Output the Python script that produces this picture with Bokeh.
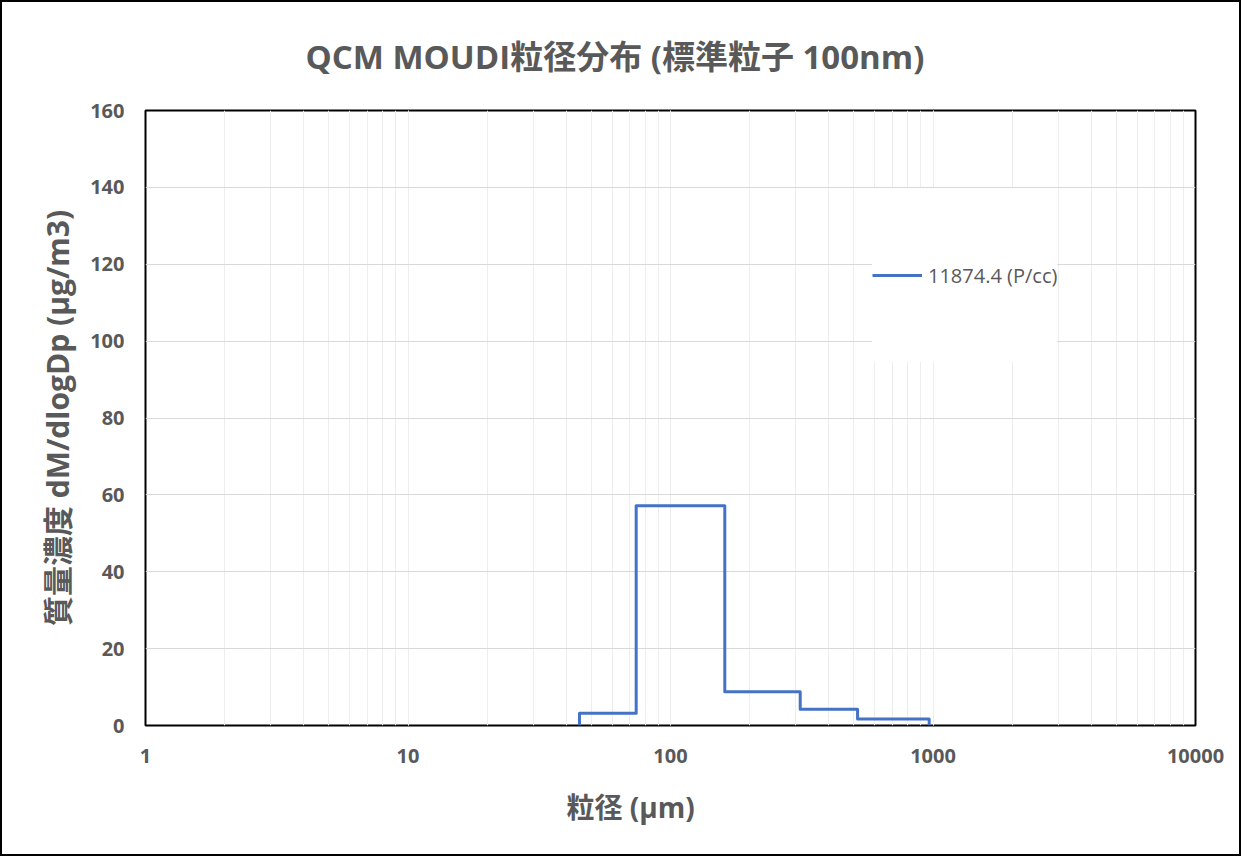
from bokeh.plotting import figure
from bokeh.models import LogTicker, SingleIntervalTicker, Range1d, Title
from bokeh.embed import file_html
from bokeh.resources import INLINE

# ---- data ----
bin_edges = [45, 74, 161, 312, 516, 967]       # particle size bin edges
bin_values = [3.2, 57.2, 8.8, 4.2, 1.7]        # dM/dlogDp per bin
series_label = "11874.4 (P/cc)"
x_tick_values = [1, 10, 100, 1000, 10000]
x_tick_labels = ["1", "10", "100", "1000", "10000"]
title_text = "QCM MOUDI粒径分布 (標準粒子 100nm)"
x_title = "粒径 (µm)"
y_title = "質量濃度 dM/dlogDp (µg/m3)"

# step outline built from edges/values
xs = [bin_edges[0]]
ys = [0.0]
for i, v in enumerate(bin_values):
    xs += [bin_edges[i], bin_edges[i + 1]]
    ys += [v, v]
xs.append(bin_edges[-1])
ys.append(0.0)

TXT = "#595959"
FONT = "'Open Sans', 'Noto Sans CJK JP'"

p = figure(width=1241, height=856, x_axis_type="log",
           x_range=Range1d(1, 10000), y_range=Range1d(0, 160),
           output_backend="svg", toolbar_location=None,
           min_border_left=143, min_border_right=48,
           min_border_top=108, min_border_bottom=133,
           styles={"border": "2px solid black"})

p.line(xs, ys, line_color="#4472C4", line_width=3, line_join="round",
       legend_label=series_label)

# title
p.title.text = title_text
p.title.text_font = FONT
p.title.text_font_size = "33px"
p.title.text_font_style = "bold"
p.title.text_color = TXT
p.title.align = "left"
p.title.vertical_align = "top"
p.title.offset = 160
p.title.standoff = 60

# frame
p.outline_line_color = "black"
p.outline_line_width = 2
p.background_fill_color = "white"
p.border_fill_color = "white"

# axes
p.xaxis.ticker = LogTicker(num_minor_ticks=10)
p.xaxis.major_label_overrides = {v: l for v, l in zip(x_tick_values, x_tick_labels)}
p.yaxis.ticker = SingleIntervalTicker(interval=20)
for ax in (p.xaxis[0], p.yaxis[0]):
    ax.axis_line_color = None
    ax.major_tick_line_color = None
    ax.minor_tick_line_color = None
    ax.major_tick_out = 0
    ax.minor_tick_out = 0
    ax.major_label_text_font = FONT
    ax.major_label_text_font_size = "20px"
    ax.major_label_text_font_style = "bold"
    ax.major_label_text_color = TXT
p.xaxis.major_label_standoff = 23
p.yaxis.major_label_standoff = 21

p.yaxis.axis_label = y_title
p.yaxis.axis_label_text_font = FONT
p.yaxis.axis_label_text_font_size = "30px"
p.yaxis.axis_label_text_font_style = "bold"
p.yaxis.axis_label_text_color = TXT
p.yaxis.axis_label_standoff = 9

xt = Title(text=x_title, align="left", offset=421, standoff=41,
           text_font=FONT, text_font_size="28px", text_font_style="bold",
           text_color=TXT)
p.add_layout(xt, "below")

# grids
p.xgrid.grid_line_color = "#ededed"
p.xgrid.grid_line_width = 1
p.xgrid.minor_grid_line_color = "#ededed"
p.xgrid.minor_grid_line_width = 1
p.ygrid.grid_line_color = "#d9d9d9"
p.ygrid.grid_line_width = 1

# legend
lg = p.legend[0]
lg.location = (727, 363)
lg.padding = 0
lg.glyph_width = 50
lg.glyph_height = 174
lg.label_height = 174
lg.label_standoff = 6
lg.label_text_font = FONT
lg.label_text_font_size = "20px"
lg.label_text_color = TXT
lg.border_line_color = None
lg.background_fill_color = "white"
lg.background_fill_alpha = 1.0

open("out.html", "w").write(file_html(p, INLINE))
